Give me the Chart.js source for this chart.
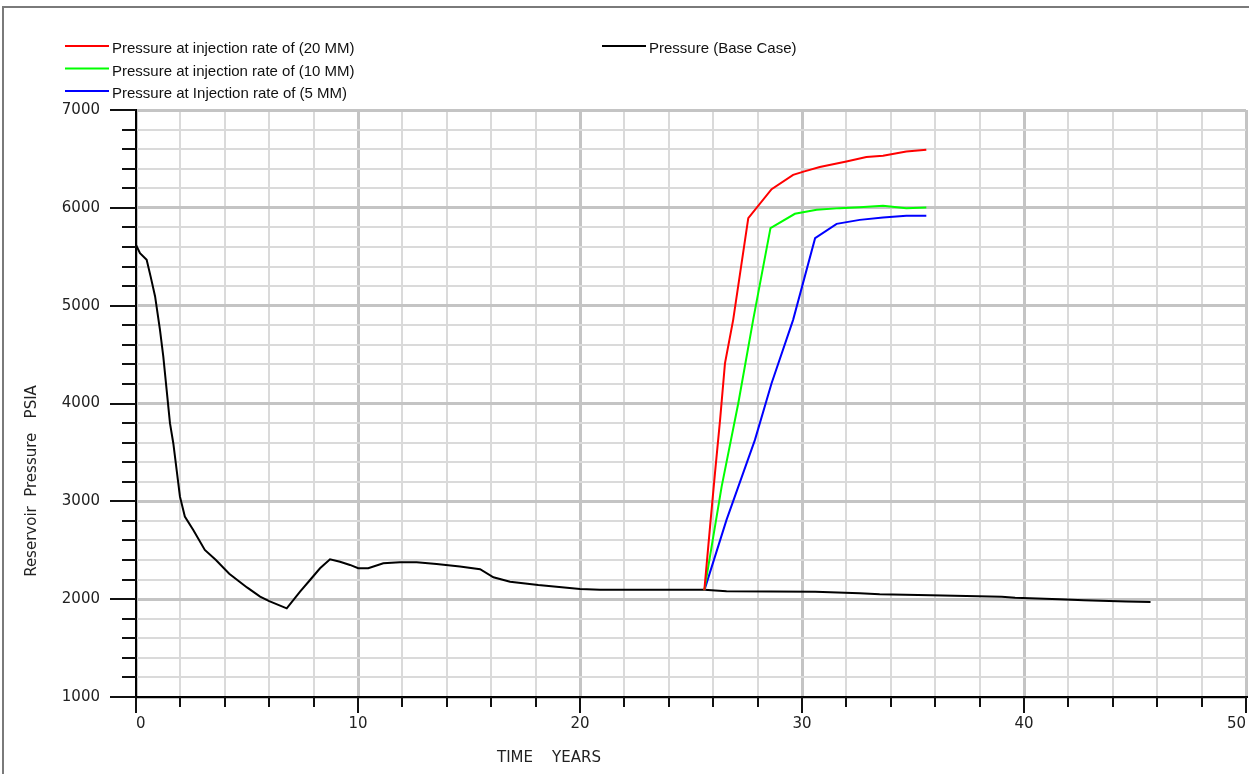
<!DOCTYPE html>
<html>
<head>
<meta charset="utf-8">
<script src="https://cdn.jsdelivr.net/npm/chart.js@4"></script>
<style>
  body { margin: 0; background: #fff; }
</style>
</head>
<body>
<canvas id="pressureChart" width="1249" height="774"></canvas>
<script>
// Base case (no injection)
const baseYears = [0, 0.18, 0.48, 0.66, 0.86, 1.08, 1.23, 1.38, 1.53, 1.68, 1.83, 1.98, 2.2, 2.58, 3.1,
  3.6, 4.2, 5.0, 5.59, 6.0, 6.79, 7.39, 7.84, 8.29, 8.74, 9.19, 9.64, 10.01, 10.46, 11.14, 11.89, 12.64,
  13.54, 14.59, 15.5, 16.1, 16.85, 18.12, 20.0, 20.9, 25.6, 26.6, 30.6, 32.6, 33.5, 35.8, 39.0, 39.6,
  41.6, 42.7, 44.6, 45.7];
const basePressure = [5622, 5536, 5468, 5297, 5094, 4753, 4480, 4139, 3799, 3594, 3321, 3048, 2844, 2708, 2503,
  2400, 2260, 2120, 2026, 1980, 1906, 2077, 2196, 2316, 2408, 2383, 2350, 2316, 2316, 2367, 2377, 2377,
  2360, 2333, 2306, 2224, 2179, 2145, 2105, 2095, 2095, 2080, 2075, 2060, 2050, 2040, 2025, 2015,
  2000, 1990, 1975, 1970];

// Injection rate 20 MM
const rate20Years = [25.6, 25.86, 26.08, 26.31, 26.53, 26.9, 27.58, 28.63, 29.6, 30.07, 30.8, 32.0, 32.9, 33.65, 34.7, 35.6];
const rate20Pressure = [2090, 2746, 3288, 3832, 4411, 4855, 5894, 6190, 6337, 6370, 6417, 6474, 6519, 6532, 6576, 6593];

// Injection rate 10 MM
const rate10Years = [25.6, 26.38, 27.13, 27.8, 28.58, 29.68, 30.66, 31.7, 32.6, 33.65, 34.7, 35.6];
const rate10Pressure = [2090, 3151, 4003, 4855, 5792, 5939, 5980, 5997, 6007, 6021, 5997, 6004];

// Injection rate 5 MM
const rate5Years = [25.6, 26.6, 27.88, 28.63, 29.6, 30.59, 31.56, 32.6, 33.65, 34.7, 35.6];
const rate5Pressure = [2090, 2810, 3628, 4207, 4855, 5690, 5836, 5877, 5901, 5918, 5918];

const seriesLabels = [
  'Pressure at injection rate of (20 MM)',
  'Pressure at injection rate of (10 MM)',
  'Pressure at Injection rate of (5 MM)',
  'Pressure (Base Case)'
];
const seriesColors = ['#ff0000', '#00ff00', '#0000ff', '#000000'];

function toPoints(xs, ys) {
  return xs.map((x, i) => ({ x: x, y: ys[i] }));
}

const tickFont = { family: 'DejaVu Sans', size: 15 };

// draws the frame, tick marks, legend and axis titles
const decorPlugin = {
  id: 'decor',
  beforeDraw(chart) {
    const c = chart.ctx;
    c.save();
    c.fillStyle = '#fff';
    c.fillRect(0, 0, chart.width, chart.height);
    c.strokeStyle = '#7a7a7a';
    c.lineWidth = 2;
    c.beginPath();
    c.moveTo(3, chart.height);
    c.lineTo(3, 7);
    c.lineTo(chart.width, 7);
    c.stroke();
    c.restore();
  },
  afterDraw(chart) {
    const c = chart.ctx;
    const xs = chart.scales.x, ys = chart.scales.y;
    const area = chart.chartArea;
    c.save();
    c.strokeStyle = '#111';
    c.lineWidth = 2;
    ys.ticks.forEach(t => {
      const py = Math.round(ys.getPixelForValue(t.value));
      const len = t.value % 1000 === 0 ? 26 : 14;
      c.beginPath();
      c.moveTo(area.left - len, py);
      c.lineTo(area.left, py);
      c.stroke();
    });
    xs.ticks.forEach(t => {
      const px = Math.round(xs.getPixelForValue(t.value));
      const len = t.value % 10 === 0 ? 16 : 10;
      c.beginPath();
      c.moveTo(px, area.bottom);
      c.lineTo(px, area.bottom + len);
      c.stroke();
    });

    // legend
    const rows = [
      { i: 0, lx: 65, y: 46 },
      { i: 1, lx: 65, y: 68.5 },
      { i: 2, lx: 65, y: 91 },
      { i: 3, lx: 602, y: 46 }
    ];
    c.font = '15px "Liberation Sans", Arial, sans-serif';
    c.textBaseline = 'middle';
    c.textAlign = 'left';
    rows.forEach(r => {
      c.strokeStyle = seriesColors[r.i];
      c.lineWidth = 2;
      c.beginPath();
      c.moveTo(r.lx, r.y);
      c.lineTo(r.lx + 44, r.y);
      c.stroke();
      c.fillStyle = '#111';
      c.fillText(seriesLabels[r.i], r.lx + 47, r.y + 3);
    });

    // axis titles
    c.font = '15px "DejaVu Sans", sans-serif';
    c.fillStyle = '#222';
    c.textAlign = 'center';
    c.fillText('TIME    YEARS', 549, 758);
    c.translate(32, 481);
    c.rotate(-Math.PI / 2);
    c.fillText('Reservoir  Pressure   PSIA', 0, 0);
    c.restore();
  }
};

const ctx = document.getElementById('pressureChart').getContext('2d');
const chart = new Chart(ctx, {
  type: 'line',
  data: {
    datasets: [
      { label: seriesLabels[0], data: toPoints(rate20Years, rate20Pressure), borderColor: seriesColors[0] },
      { label: seriesLabels[1], data: toPoints(rate10Years, rate10Pressure), borderColor: seriesColors[1] },
      { label: seriesLabels[2], data: toPoints(rate5Years, rate5Pressure), borderColor: seriesColors[2] },
      { label: seriesLabels[3], data: toPoints(baseYears, basePressure), borderColor: seriesColors[3] }
    ]
  },
  options: {
    responsive: false,
    animation: false,
    devicePixelRatio: 1,
    elements: {
      line: { borderWidth: 2, tension: 0, fill: false },
      point: { radius: 0 }
    },
    layout: { padding: { top: 110, right: 3, bottom: 0, left: 0 } },
    plugins: {
      legend: { display: false },
      tooltip: { enabled: false }
    },
    scales: {
      x: {
        type: 'linear',
        min: 0,
        max: 50,
        afterFit: s => { s.height = 77; s.paddingLeft = 0; s.paddingRight = 0; },
        border: { color: '#000', width: 2 },
        grid: {
          drawTicks: false,
          color: c => c.tick.value % 10 === 0 ? '#c4c4c4' : '#dadada',
          lineWidth: c => c.tick.value % 10 === 0 ? 3 : 2
        },
        ticks: {
          stepSize: 2,
          autoSkip: false,
          maxRotation: 0,
          align: 'inner',
          padding: 18,
          color: '#222',
          font: tickFont,
          callback: v => v % 10 === 0 ? v : ''
        }
      },
      y: {
        min: 1000,
        max: 7000,
        afterFit: s => { s.width = 136; s.paddingTop = 0; s.paddingBottom = 0; },
        border: { color: '#000', width: 2 },
        grid: {
          drawTicks: false,
          color: c => c.tick.value % 1000 === 0 ? '#c4c4c4' : '#dadada',
          lineWidth: c => c.tick.value % 1000 === 0 ? 3 : 2
        },
        ticks: {
          stepSize: 200,
          autoSkip: false,
          padding: 36,
          color: '#222',
          font: tickFont,
          callback: v => v % 1000 === 0 ? v : ''
        }
      }
    }
  },
  plugins: [decorPlugin]
});
</script>
</body>
</html>
